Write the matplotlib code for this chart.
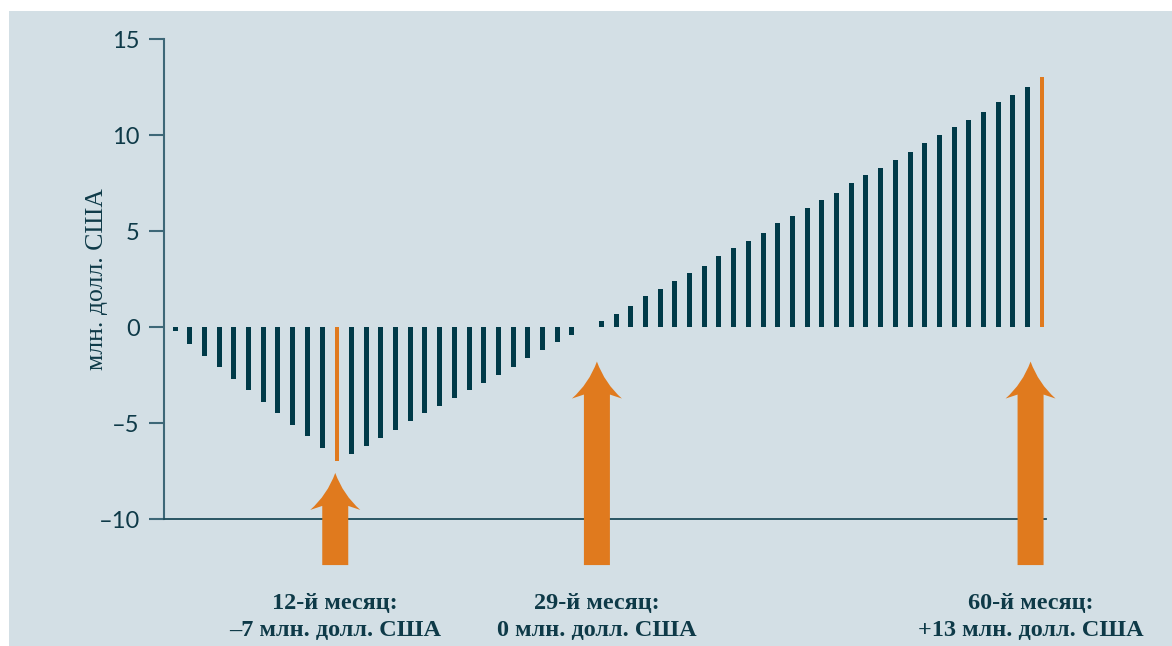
import matplotlib
matplotlib.use("Agg")
import matplotlib.pyplot as plt
import numpy as np
from matplotlib.patches import Rectangle, PathPatch
from matplotlib.path import Path
from matplotlib.transforms import Affine2D

# Cumulative result by month, USD mln
months = list(range(1, 61))
values = [-0.2, -0.9, -1.5, -2.1, -2.7, -3.3, -3.9, -4.5, -5.1, -5.7,
          -6.3, -7.0, -6.6, -6.2, -5.8, -5.35, -4.9, -4.5, -4.1, -3.7,
          -3.3, -2.9, -2.5, -2.1, -1.6, -1.2, -0.8, -0.4, 0.0, 0.3,
          0.7, 1.1, 1.6, 2.0, 2.4, 2.8, 3.2, 3.7, 4.1, 4.5,
          4.9, 5.4, 5.8, 6.2, 6.6, 7.0, 7.5, 7.9, 8.3, 8.7,
          9.1, 9.6, 10.0, 10.4, 10.8, 11.2, 11.7, 12.1, 12.5, 13.0]
highlight_months = [12, 60]

# Callouts under the chart
arrow_x = [11.9, 29.7, 59.2]
arrow_tip = [-7.6, -1.8, -1.8]
arrow_bottom = -12.4
callouts = ["12-й месяц:\n–7 млн. долл. США",
            "29-й месяц:\n0 млн. долл. США",
            "60-й месяц:\n+13 млн. долл. США"]

yticks = [15, 10, 5, 0, -5, -10]
ytick_labels = ["15", "10", "5", "0", "–5", "–10"]

bg = "#d3dfe5"
dark = "#003a48"
orange = "#e07a1e"
text_col = "#0e3a48"
axis_col = "#3d6777"

fig = plt.figure(figsize=(11.72, 6.46), dpi=100)
fig.patches.append(Rectangle((9 / 1172, 0), 1, 1 - 11 / 646, transform=fig.transFigure,
                             facecolor=bg, edgecolor="none", zorder=-10))

ax = fig.add_axes([164 / 1172, 127 / 646, 882 / 1172, 480 / 646])
ax.set_facecolor("none")

colors = [orange if m in highlight_months else dark for m in months]
widths = [0.25 if m in highlight_months else 0.34 for m in months]
ax.bar(months, values, width=widths, color=colors, zorder=3)

ax.set_xlim(0.25, 60.25)
ax.set_ylim(-10, 15)
ax.set_xticks([])
ax.set_yticks(yticks)
ax.set_yticklabels(ytick_labels, fontfamily="Lato", fontsize=17, color=text_col)
ax.tick_params(axis="y", length=11, width=1.5, color=axis_col, pad=6.5)

for s in ["top", "right"]:
    ax.spines[s].set_visible(False)
ax.spines["left"].set_color(axis_col)
ax.spines["left"].set_linewidth(1.5)
ax.spines["bottom"].set_color("#1c4a59")
ax.spines["bottom"].set_linewidth(1.3)

ax.set_ylabel("млн. долл. США", fontfamily="Liberation Serif", fontsize=18.5, color=text_col)
ax.yaxis.set_label_coords(-0.0635, 0.5)

# orange arrows, shape built in pixels from tip/bottom positions
for x, tip in zip(arrow_x, arrow_tip):
    tx, ty = ax.transData.transform((x, tip))
    _, by = ax.transData.transform((x, arrow_bottom))
    L = ty - by
    verts = [(0, 0), (8, -22), (25, -37), (13, -33), (13, -L), (-13, -L),
             (-13, -33), (-25, -37), (-8, -22), (0, 0), (0, 0)]
    codes = [Path.MOVETO, Path.CURVE3, Path.CURVE3, Path.LINETO, Path.LINETO, Path.LINETO,
             Path.LINETO, Path.LINETO, Path.CURVE3, Path.CURVE3, Path.CLOSEPOLY]
    path = Path(verts, codes)
    patch = PathPatch(path, facecolor=orange, edgecolor="none",
                      transform=Affine2D().translate(tx, ty), zorder=5)
    patch.set_clip_on(False)
    fig.patches.append(patch)

for x, txt in zip(arrow_x, callouts):
    ax.text(x, -15.1, txt, ha="center", va="center", fontfamily="Liberation Serif",
            fontweight="bold", fontsize=17.5, color=text_col, linespacing=1.4, clip_on=False)

fig.savefig("out.png", dpi=100)
